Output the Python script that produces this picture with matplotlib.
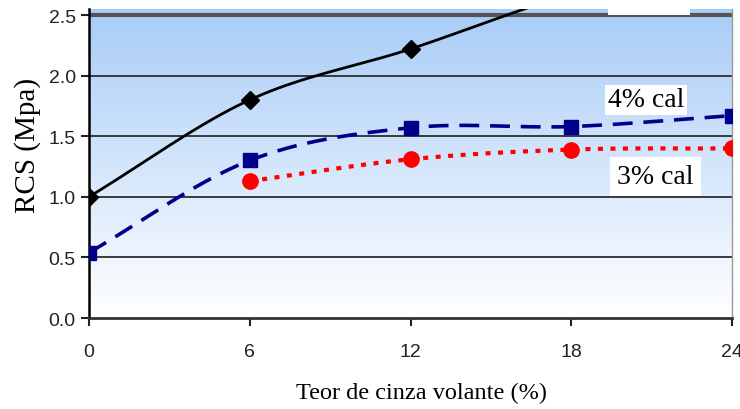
import numpy as np
import matplotlib.pyplot as plt
from matplotlib.colors import LinearSegmentedColormap

# teor de cinza volante (%) and RCS (MPa)
teor = [0, 6, 12, 18, 24]
rcs_5cal = [1.00, 1.80, 2.22, 2.67, 2.95]
teor_4cal = [0, 6, 12, 18, 24]
rcs_4cal = [0.54, 1.30, 1.57, 1.58, 1.67]
teor_3cal = [6, 12, 18, 24]
rcs_3cal = [1.13, 1.31, 1.39, 1.40]

xticks = [0, 6, 12, 18, 24]
yticks = [0.0, 0.5, 1.0, 1.5, 2.0, 2.5]


def smooth(x, y, n=40):
    # catmull-rom through the points, like the spreadsheet "smoothed line"
    x = np.asarray(x, float)
    y = np.asarray(y, float)
    px = np.concatenate([[2 * x[0] - x[1]], x, [2 * x[-1] - x[-2]]])
    py = np.concatenate([[2 * y[0] - y[1]], y, [2 * y[-1] - y[-2]]])
    xs, ys = [], []
    t = np.linspace(0, 1, n)
    for i in range(1, len(px) - 2):
        for p, out in ((px, xs), (py, ys)):
            p0, p1, p2, p3 = p[i - 1], p[i], p[i + 1], p[i + 2]
            out.extend(0.5 * ((2 * p1) + (-p0 + p2) * t
                              + (2 * p0 - 5 * p1 + 4 * p2 - p3) * t ** 2
                              + (-p0 + 3 * p1 - 3 * p2 + p3) * t ** 3))
    return xs, ys


fig = plt.figure(figsize=(7.4, 4.1), dpi=100)
ax = fig.add_axes([89 / 740, 1 - 319 / 410, (732 - 89) / 740, (319 - 10) / 410])
ax.set_xlim(0, 24)
ax.set_ylim(0, 2.55)

# blue-to-white background
cmap = LinearSegmentedColormap.from_list("bg", ["#ffffff", "#a8ccf7"])
grad = np.linspace(0, 1, 256).reshape(-1, 1)
ax.imshow(grad, cmap=cmap, aspect="auto", extent=[0, 1, 0, 1],
          transform=ax.transAxes, origin="lower", zorder=0)

for yv in yticks[1:]:
    ax.axhline(yv, color="#3a3a3a", lw=1.4, zorder=1)
ax.axhline(2.5, color="#555555", lw=3, zorder=1)

# black series
sx, sy = smooth(teor, rcs_5cal)
ax.plot(sx, sy, color="black", lw=2, zorder=3)
ax.plot(teor, rcs_5cal, ls="none", marker="D", ms=9, color="black", zorder=4)

# 4% cal
sx, sy = smooth(teor_4cal, rcs_4cal)
ax.plot(sx, sy, color="#00008b", lw=2.6, dashes=(5.5, 3), zorder=3)
ax.plot(teor_4cal, rcs_4cal, ls="none", marker="s", ms=10, color="#00008b", zorder=4)

# 3% cal
sx, sy = smooth(teor_3cal, rcs_3cal)
ax.plot(sx, sy, color="red", lw=3, dashes=(1.2, 1.8), zorder=3)
ax.plot(teor_3cal, rcs_3cal, ls="none", marker="o", ms=11, color="red", zorder=4)

serif = ["Liberation Serif", "DejaVu Serif"]
ax.text(20.8, 1.80, "4% cal", fontsize=20, family=serif, ha="center", va="center",
        bbox=dict(facecolor="white", edgecolor="none", pad=2), zorder=5)
ax.text(21.15, 1.17, "3% cal", fontsize=20, family=serif, ha="center", va="center",
        bbox=dict(facecolor="white", edgecolor="none", pad=5), zorder=5)
ax.text(20.9, 2.52, "5% cal", fontsize=20, family=serif, ha="center", va="bottom",
        bbox=dict(facecolor="white", edgecolor="none", pad=2), zorder=5, clip_on=True)

ax.spines["top"].set_visible(False)
ax.spines["left"].set_color("black")
ax.spines["left"].set_linewidth(1.8)
ax.spines["bottom"].set_color("#333333")
ax.spines["bottom"].set_linewidth(2)
ax.spines["right"].set_color("#999999")
ax.spines["right"].set_linewidth(1)

ax.set_xticks(xticks)
ax.set_xticklabels([str(v) for v in xticks])
ax.set_yticks(yticks)
ax.set_yticklabels([f"{v:.1f}" for v in yticks])
ax.tick_params(axis="both", direction="out", length=6, width=1.5, color="#222222",
               labelsize=14, labelcolor="#222222")
ax.tick_params(axis="x", pad=12)
for lbl in ax.get_xticklabels() + ax.get_yticklabels():
    lbl.set_family(["Liberation Sans", "DejaVu Sans"])

fig.text(28 / 740, 1 - 145 / 410, "RCS (Mpa)", rotation=90, fontsize=21,
         family=serif, ha="center", va="center")
fig.text(421 / 740, 1 - 393 / 410, "Teor de cinza volante (%)", fontsize=17.5,
         family=serif, ha="center", va="center")

fig.savefig("out.png", dpi=100)
